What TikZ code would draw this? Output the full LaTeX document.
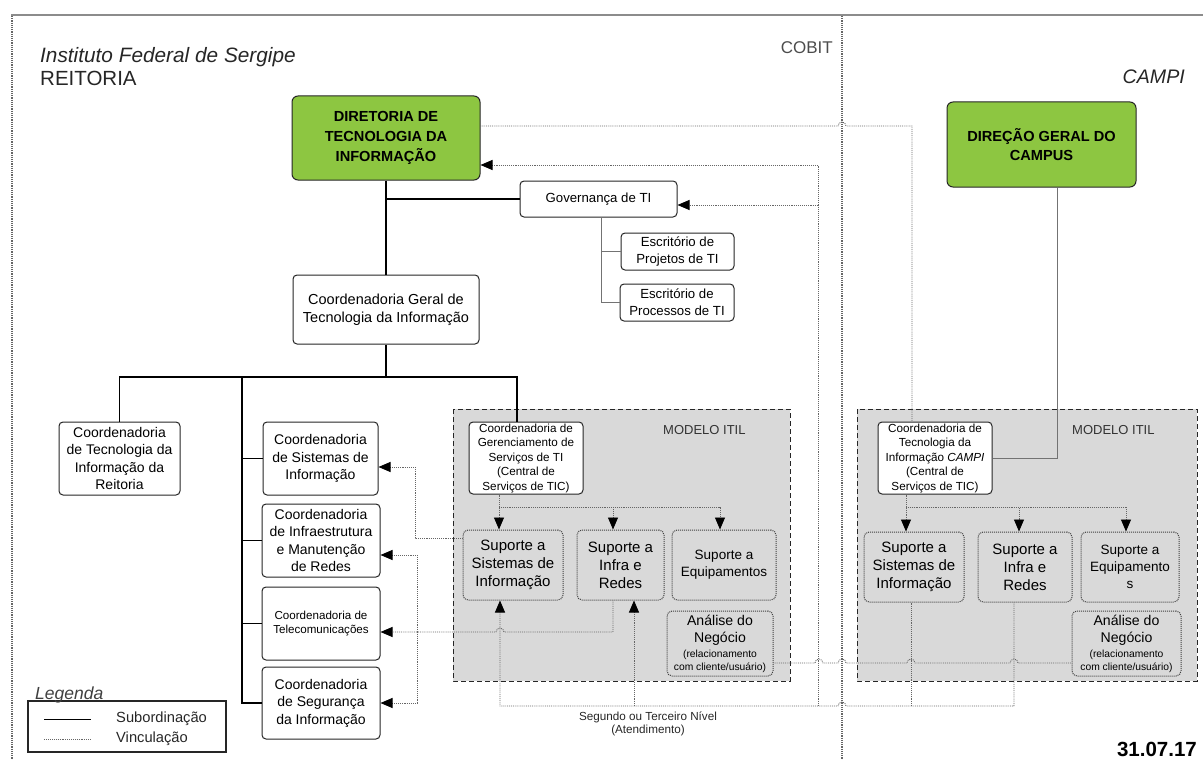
\documentclass[tikz,border=0pt]{standalone}
\usepackage{fontspec}
\setmainfont{Liberation Sans}
\usetikzlibrary{arrows.meta}
\newcommand{\anafont}{\fontsize{10.3}{13}\selectfont}

\begin{document}
\begin{tikzpicture}[x=1pt,y=-1pt,
  box/.style={draw=black!85, line width=1pt, rounded corners=4pt, fill=white, align=center, inner sep=1pt},
  greenbox/.style={box, rounded corners=6pt, fill=itgreen, font=\bfseries\fontsize{14.6}{19.7}\selectfont},
  supbox/.style={draw=black!75, line width=1pt, densely dotted, rounded corners=5pt, fill=itilgray, align=center, inner sep=1pt},
  itil/.style={draw=black!85, line width=0.9pt, dash pattern=on 5pt off 3pt, fill=itilgray},
  big/.style={font=\fontsize{14}{17.5}\selectfont},
  mid/.style={font=\fontsize{13.2}{16.7}\selectfont},
  small/.style={font=\fontsize{11.7}{14.5}\selectfont},
  label/.style={inner sep=0},
  sub/.style={draw=black, line width=1.1pt},
  subgray/.style={draw=black!55, line width=0.9pt},
  vinc/.style={draw=black!60, line width=0.9pt, densely dotted},
  tip/.style={-{Triangle[length=12pt,width=10pt,color=black]}}]
\definecolor{itgreen}{HTML}{8DC641}
\definecolor{itilgray}{HTML}{D9D9D9}
\useasboundingbox (0,0) rectangle (1203,760);

% moldura
\draw[black!45, line width=2.5pt] (11,15) -- (1203,15);
\draw[black!60, line width=1.2pt, densely dotted] (12,16) -- (12,760);
\draw[black!60, line width=1.2pt, densely dotted] (842,16) -- (842,760);

% titulos
\node[label, anchor=west, font=\itshape\fontsize{20.8}{24}\selectfont, text=black!85] (inst) at (40,57) {Instituto Federal de Sergipe};
\node[label, anchor=west, font=\fontsize{20.5}{24}\selectfont, text=black!85] (reit) at (40,78) {REITORIA};
\node[label, anchor=east, font=\fontsize{17}{20}\selectfont, text=black!70] (cobit) at (833,48) {COBIT};
\node[label, anchor=east, font=\itshape\fontsize{19.6}{22}\selectfont, text=black!85] (campi) at (1185,77) {CAMPI};
\node[label, anchor=east, font=\bfseries\fontsize{20.5}{24}\selectfont] (data) at (1197,749) {31.07.17};

% areas ITIL
\draw[itil] (453,409) rectangle (790,681);
\draw[itil] (857,409) rectangle (1197,681);
\node[label, anchor=west, font=\fontsize{13}{15}\selectfont, text=black!80] (itilA) at (663,430) {MODELO ITIL};
\node[label, anchor=west, font=\fontsize{13}{15}\selectfont, text=black!80] (itilB) at (1072,430) {MODELO ITIL};

% reitoria
\node[greenbox, minimum width=188pt, minimum height=84pt] (dti) at (386,138) {DIRETORIA DE\\TECNOLOGIA DA\\INFORMAÇÃO};
\node[box, mid, minimum width=157pt, minimum height=36pt] (gov) at (598.5,199) {Governança de TI};
\node[box, mid, minimum width=113pt, minimum height=37pt] (escproj) at (677.5,251.5) {Escritório de\\Projetos de TI};
\node[box, mid, minimum width=114pt, minimum height=37pt] (escproc) at (677,302.5) {Escritório de\\Processos de TI};
\node[box, font=\fontsize{14.5}{18}\selectfont, minimum width=186pt, minimum height=69pt] (cgti) at (386,309.5) {Coordenadoria Geral de\\Tecnologia da Informação};
\node[box, big, minimum width=121pt, minimum height=73pt] (ctir) at (119.5,458.5) {Coordenadoria\\de Tecnologia da\\Informação da\\Reitoria};
\node[box, big, minimum width=115pt, minimum height=73pt] (csi) at (320.5,458.5) {Coordenadoria\\de Sistemas de\\Informação};
\node[box, big, minimum width=118pt, minimum height=73pt] (cinfra) at (321,540.5) {Coordenadoria\\de Infraestrutura\\e Manutenção\\de Redes};
\node[box, font=\fontsize{11.6}{14}\selectfont, minimum width=118pt, minimum height=73pt] (ctel) at (321,623.5) {Coordenadoria de\\Telecomunicações};
\node[box, big, minimum width=118pt, minimum height=72pt] (cseg) at (321,703) {Coordenadoria\\de Segurança\\da Informação};
\node[box, small, minimum width=114pt, minimum height=72pt] (cgst) at (526,458) {Coordenadoria de\\Gerenciamento de\\Serviços de TI\\(Central de\\Serviços de TIC)};
\node[supbox, font=\fontsize{15}{18}\selectfont, minimum width=100pt, minimum height=70pt] (supSIa) at (513,565) {Suporte a\\Sistemas de\\Informação};
\node[supbox, font=\fontsize{15}{18}\selectfont, minimum width=87pt, minimum height=70pt] (supINa) at (620.5,565) {Suporte a\\Infra e\\Redes};
\node[supbox, font=\fontsize{13.5}{17}\selectfont, minimum width=104pt, minimum height=70pt] (supEQa) at (724,565) {Suporte a\\Equipamentos};
\node[supbox, font=\fontsize{14.1}{17}\selectfont, minimum width=106pt, minimum height=65pt, inner sep=0pt] (anaA) at (720,643.5) {Análise do\\Negócio\\[-2pt]{\anafont(relacionamento}\\[-4pt]{\anafont com cliente/usuário)}};

% campi
\node[greenbox, minimum width=189pt, minimum height=85pt] (dgc) at (1041.5,144.5) {DIREÇÃO GERAL DO\\CAMPUS};
\node[box, small, minimum width=114pt, minimum height=72pt] (ctic) at (935,458) {Coordenadoria de\\Tecnologia da\\Informação \textit{CAMPI}\\(Central de\\Serviços de TIC)};
\node[supbox, font=\fontsize{15}{18}\selectfont, minimum width=100pt, minimum height=70pt] (supSIb) at (914,567) {Suporte a\\Sistemas de\\Informação};
\node[supbox, font=\fontsize{15}{18}\selectfont, minimum width=94pt, minimum height=70pt] (supINb) at (1025,567) {Suporte a\\Infra e\\Redes};
\node[supbox, font=\fontsize{13.5}{17}\selectfont, minimum width=98pt, minimum height=70pt] (supEQb) at (1130,567) {Suporte a\\Equipamento\\s};
\node[supbox, font=\fontsize{14.1}{17}\selectfont, minimum width=109pt, minimum height=65pt, inner sep=0pt] (anaB) at (1126.5,643.5) {Análise do\\Negócio\\[-2pt]{\anafont(relacionamento}\\[-4pt]{\anafont com cliente/usuário)}};

% subordinacao
\coordinate (bus) at (386,377);
\coordinate (spine) at (242,377);
\draw[sub] (dti.south) -- (cgti.north);
\draw[sub] (dti.south |- gov.west) -- (gov.west);
\draw[sub] (cgti.south) -- (bus);
\draw[sub] (ctir.north) |- ([xshift=-9pt]cgst.north |- bus) -- ([xshift=-9pt]cgst.north);
\draw[sub] (spine) |- (cseg.west);
\draw[sub] (spine |- csi.west) -- (csi.west);
\draw[sub] (spine |- cinfra.west) -- (cinfra.west);
\draw[sub] (spine |- ctel.west) -- (ctel.west);
\draw[subgray] ([xshift=2.5pt]gov.south) |- (escproc.west);
\draw[subgray] ([xshift=2.5pt]gov.south |- escproj.west) -- (escproj.west);
\draw[subgray] ([xshift=15.5pt]dgc.south) |- (ctic.east);

% itil
\coordinate (forkA) at (499,507);
\coordinate (forkB) at (906,507);
\draw[vinc, tip] (cgst.south -| forkA) -- (supSIa.north -| forkA);
\draw[vinc, tip] (forkA) -| ([xshift=-7.5pt]supINa.north);
\draw[vinc, tip] (forkA) -| ([xshift=-4pt]supEQa.north);
\draw[vinc, tip] (ctic.south -| forkB) -- (supSIb.north -| forkB);
\draw[vinc, tip] (forkB) -| ([xshift=-6pt]supINb.north);
\draw[vinc, tip] (forkB) -| ([xshift=-4pt]supEQb.north);

% vinculacao
\coordinate (rail) at (818,706);
\coordinate (tele) at (417,632);
\draw[vinc] ([yshift=12pt]dti.east) -- (838,126) arc[start angle=180, end angle=0, radius=4pt] -| ([xshift=-23pt]ctic.north);
\draw[vinc, tip] (rail) |- ([yshift=-27pt]dti.east);
\draw[vinc, tip] ([yshift=-6pt]gov.east -| rail) -- ([yshift=-6pt]gov.east);
\draw[vinc, tip] ([xshift=-11pt]supINb.south) |- (846,706) arc[start angle=0, end angle=180, radius=4pt] -| ([xshift=-13pt]supSIa.south);
\draw[vinc] ([xshift=-3pt]supSIb.south) -- ++(0,104);
\draw[vinc, tip] ([xshift=13.5pt]supINa.south |- rail) -- ([xshift=13.5pt]supINa.south);
\draw[vinc] ([yshift=-19.5pt]anaA.east) -- (815,663) arc[start angle=180, end angle=0, radius=4pt]
  -- (838,663) arc[start angle=180, end angle=0, radius=4pt]
  -- (907,663) arc[start angle=180, end angle=0, radius=4pt]
  -- (1010,663) arc[start angle=180, end angle=0, radius=4pt] -- ([yshift=-19.5pt]anaB.west);
\draw[vinc, tip] ([yshift=27pt]supSIa.west) -- (415,538) |- ([yshift=-8.5pt]csi.east);
\draw[vinc, tip] ([xshift=-7.5pt]supINa.south) |- (504,632) arc[start angle=0, end angle=180, radius=4pt] -- ([yshift=-8.5pt]ctel.east);
\draw[vinc, tip] (tele) |- ([yshift=-14.5pt]cinfra.east);
\draw[vinc, tip] (tele) |- (cseg.east);

\node[label, align=center, font=\fontsize{11.7}{13.5}\selectfont, text=black!85] (nivel) at (648,724) {Segundo ou Terceiro Nível\\(Atendimento)};

% legenda
\node[draw=black!85, line width=1.2pt, minimum width=198pt, minimum height=51pt, inner sep=0] (leg) at (127,726.5) {};
\node[label, anchor=base west, font=\itshape\fontsize{17.5}{20}\selectfont, text=black!75] (legtit) at (35,699) {Legenda};
\draw[sub, line width=0.6pt] ([xshift=17pt,yshift=7.5pt]leg.west) -- ++(47,0);
\draw[vinc] ([xshift=17pt,yshift=-12.5pt]leg.west) -- ++(47,0);
\node[label, anchor=west, font=\fontsize{14.7}{17}\selectfont, text=black!85] (lsub) at (116,719) {Subordinação};
\node[label, anchor=west, font=\fontsize{14.7}{17}\selectfont, text=black!85] (lvinc) at (116,739) {Vinculação};
\end{tikzpicture}
\end{document}
